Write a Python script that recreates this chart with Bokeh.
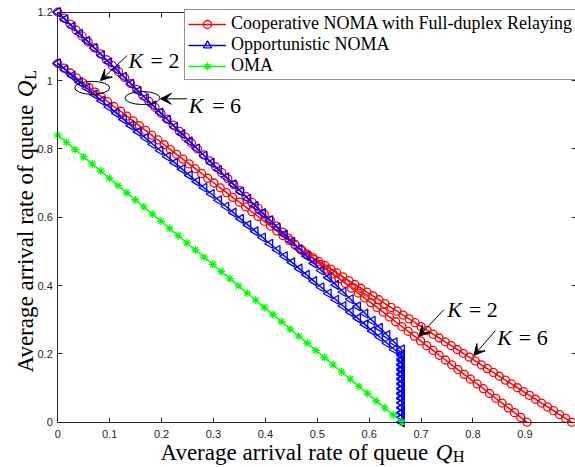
import numpy as np
from bokeh.plotting import figure
from bokeh.models import (Range1d, LinearAxis, Legend, LegendItem, Label, Arrow,
                          VeeHead, FixedTicker, ColumnDataSource)
from bokeh.embed import file_html
from bokeh.resources import INLINE

# ---------------- data ----------------
# Cooperative NOMA with full-duplex relaying, K = 2
coop_k2_x = [0, 0.012, 0.024, 0.036, 0.048, 0.060, 0.072, 0.084, 0.096, 0.108,
             0.121, 0.133, 0.145, 0.157, 0.169, 0.181, 0.193, 0.205, 0.217, 0.229,
             0.241, 0.253, 0.265, 0.277, 0.289, 0.301, 0.313, 0.325, 0.337, 0.350,
             0.362, 0.374, 0.386, 0.398, 0.410, 0.422, 0.434, 0.446, 0.458, 0.470,
             0.482, 0.494, 0.506, 0.518, 0.530, 0.542, 0.554, 0.566, 0.579, 0.591,
             0.603, 0.615, 0.627, 0.639, 0.651, 0.663, 0.675, 0.687, 0.699, 0.711,
             0.723, 0.735, 0.747, 0.759, 0.771, 0.783, 0.795, 0.808, 0.820, 0.832,
             0.844, 0.856, 0.868, 0.880, 0.892, 0.904]
coop_k2_y = [1.05, 1.036, 1.022, 1.008, 0.994, 0.98, 0.966, 0.952, 0.938, 0.924,
             0.91, 0.896, 0.882, 0.868, 0.854, 0.84, 0.826, 0.812, 0.798, 0.784,
             0.77, 0.756, 0.742, 0.728, 0.714, 0.70, 0.686, 0.672, 0.658, 0.644,
             0.63, 0.616, 0.602, 0.588, 0.574, 0.56, 0.546, 0.532, 0.518, 0.504,
             0.49, 0.476, 0.462, 0.448, 0.434, 0.42, 0.406, 0.392, 0.378, 0.364,
             0.35, 0.336, 0.322, 0.308, 0.294, 0.28, 0.266, 0.252, 0.238, 0.224,
             0.21, 0.196, 0.182, 0.168, 0.154, 0.14, 0.126, 0.112, 0.098, 0.084,
             0.07, 0.056, 0.042, 0.028, 0.014, 0.0]

# Cooperative NOMA with full-duplex relaying, K = 6
coop_k6_x = [0, 0.0117, 0.0234, 0.0351, 0.0468, 0.0585, 0.0702, 0.0819, 0.0936, 0.1053,
             0.117, 0.1287, 0.1404, 0.1521, 0.1638, 0.1755, 0.1872, 0.1989, 0.2106, 0.2223,
             0.234, 0.2457, 0.2574, 0.2691, 0.2808, 0.2925, 0.3042, 0.3159, 0.3276, 0.3393,
             0.351, 0.3627, 0.3744, 0.3861, 0.3978, 0.4095, 0.4212, 0.4329, 0.4446, 0.4563,
             0.468,
             0.4796, 0.4912, 0.5028, 0.5144, 0.526, 0.5376, 0.5492, 0.5608, 0.5724, 0.584,
             0.5956, 0.6072, 0.6188, 0.6304, 0.642, 0.6536, 0.6652, 0.6768, 0.6884, 0.70,
             0.7116, 0.7232, 0.7348, 0.7464, 0.758, 0.7696, 0.7812, 0.7928, 0.8044, 0.816,
             0.8276, 0.8392, 0.8508, 0.8624, 0.874, 0.8856, 0.8972, 0.9088, 0.9204, 0.932,
             0.9436, 0.9552, 0.9668, 0.9784, 0.99]
coop_k6_y = [1.2, 1.1826, 1.1652, 1.1478, 1.1304, 1.113, 1.0956, 1.0782, 1.0608, 1.0434,
             1.026, 1.0086, 0.9912, 0.9738, 0.9564, 0.939, 0.9216, 0.9042, 0.8868, 0.8694,
             0.852, 0.8346, 0.8172, 0.7998, 0.7824, 0.765, 0.7476, 0.7302, 0.7128, 0.6954,
             0.678, 0.6606, 0.6432, 0.6258, 0.6084, 0.591, 0.5736, 0.5562, 0.5388, 0.5214,
             0.504,
             0.4928, 0.4816, 0.4704, 0.4592, 0.448, 0.4368, 0.4256, 0.4144, 0.4032, 0.392,
             0.3808, 0.3696, 0.3584, 0.3472, 0.336, 0.3248, 0.3136, 0.3024, 0.2912, 0.28,
             0.2688, 0.2576, 0.2464, 0.2352, 0.224, 0.2128, 0.2016, 0.1904, 0.1792, 0.168,
             0.1568, 0.1456, 0.1344, 0.1232, 0.112, 0.1008, 0.0896, 0.0784, 0.0672, 0.056,
             0.0448, 0.0336, 0.0224, 0.0112, 0.0]

# Opportunistic NOMA, K = 6
opp_k6_x = [0, 0.0141, 0.0282, 0.0423, 0.0564, 0.0705, 0.0846, 0.0987, 0.1128, 0.1269,
            0.141, 0.1551, 0.1692, 0.1833, 0.1974, 0.2115, 0.2256, 0.2397, 0.2538, 0.2679,
            0.282, 0.2961, 0.3102, 0.3243, 0.3384, 0.3525, 0.3666, 0.3807, 0.3948, 0.4089,
            0.423, 0.4371, 0.4512, 0.4653, 0.4794, 0.4935, 0.5076, 0.5217, 0.5358, 0.5499,
            0.564, 0.5781, 0.5922, 0.6063, 0.6204, 0.6345, 0.6486, 0.6627,
            0.6627, 0.6627, 0.6627, 0.6627, 0.6627, 0.6627, 0.6627, 0.6627, 0.6627, 0.6627,
            0.6627, 0.6627, 0.6627, 0.6627, 0.6627]
opp_k6_y = [1.2, 1.179, 1.158, 1.137, 1.116, 1.095, 1.074, 1.053, 1.032, 1.011,
            0.99, 0.969, 0.948, 0.927, 0.906, 0.885, 0.864, 0.843, 0.822, 0.801,
            0.78, 0.759, 0.738, 0.717, 0.696, 0.675, 0.654, 0.633, 0.612, 0.591,
            0.57, 0.549, 0.528, 0.507, 0.486, 0.465, 0.444, 0.423, 0.402, 0.381,
            0.36, 0.339, 0.318, 0.297, 0.276, 0.255, 0.234, 0.213,
            0.199, 0.185, 0.170, 0.156, 0.142, 0.128, 0.114, 0.099, 0.085, 0.071,
            0.057, 0.043, 0.028, 0.014, 0.0]

# Opportunistic NOMA, K = 2
opp_k2_x = [0, 0.0141, 0.0282, 0.0423, 0.0564, 0.0705, 0.0846, 0.0987, 0.1128, 0.1269,
            0.141, 0.1551, 0.1692, 0.1833, 0.1974, 0.2115, 0.2256, 0.2397, 0.2538, 0.2679,
            0.282, 0.2961, 0.3102, 0.3243, 0.3384, 0.3525, 0.3666, 0.3807, 0.3948, 0.4089,
            0.423, 0.4371, 0.4512, 0.4653, 0.4794, 0.4935, 0.5076, 0.5217, 0.5358, 0.5499,
            0.564, 0.5781, 0.5922, 0.6063, 0.6204, 0.6345, 0.6486, 0.6627,
            0.6627, 0.6627, 0.6627, 0.6627, 0.6627, 0.6627, 0.6627, 0.6627, 0.6627, 0.6627,
            0.6627, 0.6627, 0.6627, 0.6627]
opp_k2_y = [1.05, 1.0318, 1.0136, 0.9954, 0.9772, 0.959, 0.9408, 0.9226, 0.9044, 0.8862,
            0.868, 0.8498, 0.8316, 0.8134, 0.7952, 0.777, 0.7588, 0.7406, 0.7224, 0.7042,
            0.686, 0.6678, 0.6496, 0.6314, 0.6132, 0.595, 0.5768, 0.5586, 0.5404, 0.5222,
            0.504, 0.4858, 0.4676, 0.4494, 0.4312, 0.413, 0.3948, 0.3766, 0.3584, 0.3402,
            0.322, 0.3038, 0.2856, 0.2674, 0.2492, 0.231, 0.2128, 0.1946,
            0.181, 0.167, 0.153, 0.139, 0.125, 0.111, 0.097, 0.083, 0.069, 0.056,
            0.042, 0.028, 0.014, 0.0]

# OMA
oma_x = [0, 0.0166, 0.0332, 0.0497, 0.0663, 0.0829, 0.0995, 0.116, 0.1326, 0.1492,
         0.1658, 0.1823, 0.1989, 0.2155, 0.2321, 0.2486, 0.2652, 0.2818, 0.2984, 0.3149,
         0.3315, 0.3481, 0.3647, 0.3812, 0.3978, 0.4144, 0.431, 0.4475, 0.4641, 0.4807,
         0.4973, 0.5138, 0.5304, 0.547, 0.5636, 0.5801, 0.5967, 0.6133, 0.6299, 0.6464,
         0.663]
oma_y = [0.84, 0.819, 0.798, 0.777, 0.756, 0.735, 0.714, 0.693, 0.672, 0.651,
         0.63, 0.609, 0.588, 0.567, 0.546, 0.525, 0.504, 0.483, 0.462, 0.441,
         0.42, 0.399, 0.378, 0.357, 0.336, 0.315, 0.294, 0.273, 0.252, 0.231,
         0.21, 0.189, 0.168, 0.147, 0.126, 0.105, 0.084, 0.063, 0.042, 0.021, 0.0]

legend_labels = ["Cooperative NOMA with Full-duplex Relaying", "Opportunistic NOMA", "OMA"]
x_ticks = [0, 0.1, 0.2, 0.3, 0.4, 0.5, 0.6, 0.7, 0.8, 0.9, 1]
y_ticks = [0, 0.2, 0.4, 0.6, 0.8, 1, 1.2]

# ---------------- figure ----------------
AX = "#262626"
SERIF = "Liberation Serif"

# the frame covers the whole canvas; axes are drawn at fixed data locations
p = figure(width=575, height=467, output_backend="svg", toolbar_location=None,
           x_range=Range1d(-0.1104, 0.9975), y_range=Range1d(-0.1326, 1.2342),
           x_axis_location=None, y_axis_location=None,
           min_border=0, min_border_left=0, min_border_right=0, min_border_top=0,
           min_border_bottom=0, background_fill_color="white",
           border_fill_color="white", outline_line_color=None)
p.xgrid.visible = False
p.ygrid.visible = False


def make_axis(ticks, loc, bounds, show_labels):
    ax = LinearAxis(fixed_location=loc, bounds=bounds)
    ax.ticker = FixedTicker(ticks=ticks)
    ax.axis_line_color = AX
    ax.axis_line_width = 1
    ax.major_tick_line_color = AX
    ax.major_tick_line_width = 1
    ax.major_tick_in = 5
    ax.major_tick_out = 0
    ax.minor_tick_line_color = None
    ax.major_label_text_font = "Liberation Sans"
    ax.major_label_text_font_size = "11px"
    ax.major_label_overrides = {0: "0", 1: "1"}
    if show_labels:
        ax.major_label_text_color = AX
    else:
        ax.major_label_text_color = None
    return ax


xb = make_axis(x_ticks, 0, (0, 1), True)
xb.major_label_standoff = 8
p.add_layout(xb, "below")
yl = make_axis(y_ticks, 0, (0, 1.2), True)
yl.major_label_standoff = 5
p.add_layout(yl, "left")
xt = make_axis(x_ticks, 1.2, (0, 1), False)
p.add_layout(xt, "above")
yr = make_axis(y_ticks, 1, (0, 1.2), False)
p.add_layout(yr, "right")

RED, BLUE, GREEN = "#FF0000", "#0000FF", "#00FF00"
LW = 1.5

r2l = p.line(coop_k2_x, coop_k2_y, line_color=RED, line_width=LW)
r2s = p.scatter(coop_k2_x, coop_k2_y, marker="circle", size=8, line_color=RED,
                fill_color=None, line_width=1.3)
r6l = p.line(coop_k6_x, coop_k6_y, line_color=RED, line_width=LW)
r6s = p.scatter(coop_k6_x, coop_k6_y, marker="circle", size=8, line_color=RED,
                fill_color=None, line_width=1.3)

# left-pointing triangle markers (up-pointing triangle rotated by 90 degrees)
b2l = p.line(opp_k2_x, opp_k2_y, line_color=BLUE, line_width=LW)
b2s = p.scatter(opp_k2_x, opp_k2_y, marker="triangle", angle=np.pi / 2,
                size=9, line_color=BLUE, fill_color=None, line_width=1.3)
b6l = p.line(opp_k6_x, opp_k6_y, line_color=BLUE, line_width=LW)
b6s = p.scatter(opp_k6_x, opp_k6_y, marker="triangle", angle=np.pi / 2,
                size=9, line_color=BLUE, fill_color=None, line_width=1.3)
gl = p.line(oma_x, oma_y, line_color=GREEN, line_width=LW)
gs = p.scatter(oma_x, oma_y, marker="asterisk", size=8, line_color=GREEN,
               line_width=1.3)

legend = Legend(items=[LegendItem(label=legend_labels[0], renderers=[r6l, r6s]),
                       LegendItem(label=legend_labels[1], renderers=[b6l, b6s]),
                       LegendItem(label=legend_labels[2], renderers=[gl, gs])],
                location=(184, 387), margin=0, padding=3, spacing=0,
                glyph_width=38, glyph_height=20, label_height=20, label_standoff=5,
                label_text_font=SERIF, label_text_font_size="18px",
                label_text_color="black", border_line_color=AX, border_line_width=1,
                background_fill_color="white", background_fill_alpha=1)
p.add_layout(legend)

# ---------------- annotations ----------------
p.ellipse(x=[0.0663, 0.1632], y=[0.9786, 0.9488], width=0.0674, height=0.038,
          fill_color=None, line_color="black", line_width=1)


def arrow(x0, y0, x1, y1):
    p.add_layout(Arrow(x_start=x0, y_start=y0, x_end=x1, y_end=y1,
                       line_color="black", line_width=1,
                       end=VeeHead(size=11, fill_color="black", line_color="black",
                                   line_width=1)))


arrow(0.1337, 1.0732, 0.0823, 1.0)
arrow(0.2493, 0.9465, 0.1979, 0.9465)
arrow(0.7437, 0.329, 0.6955, 0.2509)
arrow(0.8434, 0.2684, 0.8016, 0.1952)


def label(x, y, text, size, italic=False, angle=0.0):
    p.add_layout(Label(x=x, y=y, text=text, text_font=SERIF,
                       text_font_size=f"{size}px",
                       text_font_style="italic" if italic else "normal",
                       text_color="black", text_align="left",
                       text_baseline="alphabetic", angle=angle))


def k_label(xk, xe, y, n):
    label(xk, y, "K", 22, italic=True)
    label(xe, y, "= " + n, 22)


k_label(0.1362, 0.1786, 1.0585, "2")
k_label(0.2524, 0.2975, 0.9268, "6")
k_label(0.7503, 0.7919, 0.3298, "2")
k_label(0.8466, 0.8882, 0.2470, "6")

# x-axis title
label(0.1979, -0.0887, "Average arrival rate of queue", 23)
label(0.7281, -0.0887, "Q", 23, italic=True)
label(0.7615, -0.1018, "H", 16)
# y-axis title (rotated)
label(-0.0622, 0.1454, "Average arrival rate of queue", 23, angle=np.pi / 2)
label(-0.0622, 0.9508, "Q", 23, italic=True, angle=np.pi / 2)
label(-0.0535, 1.0023, "L", 16, angle=np.pi / 2)

open("out.html", "w").write(file_html(p, INLINE))
